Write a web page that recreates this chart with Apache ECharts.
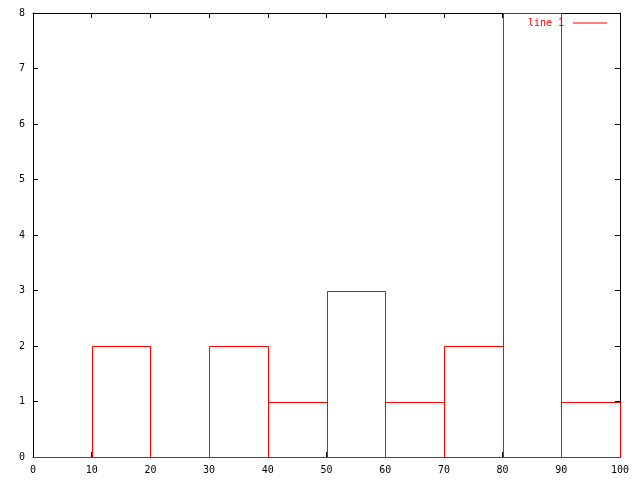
<!DOCTYPE html>
<html><head><meta charset="utf-8">
<script src="https://cdn.jsdelivr.net/npm/echarts@6/dist/echarts.min.js"></script>
<style>html,body{margin:0;padding:0;background:#fff}#c{width:640px;height:480px}</style>
</head><body><div id="c"></div>
<script>
const binStarts = [0, 10, 20, 30, 40, 50, 60, 70, 80, 90];
const binWidth = 10;
const counts = [0, 2, 0, 2, 1, 3, 1, 2, 8, 1];
const seriesName = 'line 1';

const font = 'DejaVu Sans Mono';
const chart = echarts.init(document.getElementById('c'), null, {renderer: 'canvas'});
function axis(pos, min, max, interval, showLabel) {
  return {
    type: 'value', position: pos, min: min, max: max, interval: interval,
    axisLine: {show: true, onZero: false, lineStyle: {color: '#000', width: 1}},
    axisTick: {show: true, inside: true, length: 5, lineStyle: {color: '#000'}},
    splitLine: {show: false},
    axisLabel: {show: showLabel, color: '#000', fontFamily: font, fontSize: 10, margin: 8}
  };
}
chart.setOption({
  animation: false,
  backgroundColor: '#fff',
  grid: {left: 33, right: 20, top: 13, bottom: 23},
  legend: {
    data: [{name: seriesName, icon: 'rect'}],
    right: 28, top: 13, align: 'right',
    itemWidth: 34, itemHeight: 1, itemGap: 0,
    itemStyle: {color: '#ff0000'},
    textStyle: {color: '#ff0000', fontFamily: font, fontSize: 10, padding: [0, 4, 0, 0]}
  },
  xAxis: [axis('bottom', 0, 100, 10, true), axis('top', 0, 100, 10, false)],
  yAxis: [axis('left', 0, 8, 1, true), axis('right', 0, 8, 1, false)],
  series: [{
    name: seriesName,
    type: 'custom',
    xAxisIndex: 0, yAxisIndex: 0,
    silent: true,
    itemStyle: {color: '#ff0000'},
    renderItem: function (params, api) {
      const x0 = Math.round(api.coord([api.value(0), 0])[0]) + 0.5;
      const x1 = Math.round(api.coord([api.value(1), 0])[0]) + 0.5;
      const yb = Math.round(api.coord([0, 0])[1]) + 0.5;
      const yt = Math.round(api.coord([0, api.value(2)])[1]) + 0.5;
      return {
        type: 'polyline',
        shape: {points: [[x0, yb], [x0, yt], [x1, yt], [x1, yb], [x0, yb]]},
        style: {fill: null, stroke: '#ff0000', lineWidth: 1}
      };
    },
    data: binStarts.map((s, i) => [s, s + binWidth, counts[i]]),
    z: 5
  }]
});
</script></body></html>
